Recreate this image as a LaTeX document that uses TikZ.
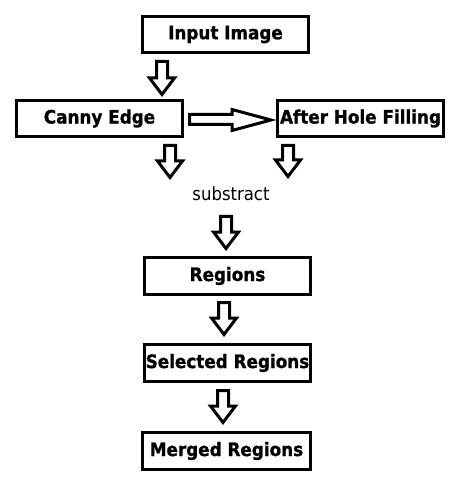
\documentclass[tikz,border=0pt]{standalone}
\usepackage{graphicx}
\usepackage{fontspec}
\setmainfont{DejaVu Sans}[BoldFeatures={FakeBold=1.2}]
\newcommand\tallt[1]{\scalebox{1}[1.1]{#1}}
\begin{document}
\begin{tikzpicture}[x=1pt,y=-1pt,
  stepbox/.style={draw=black,line width=3pt,minimum height=36pt,minimum width=166pt,inner sep=0pt,
    font=\fontsize{16.8}{20}\selectfont\bfseries},
  blockarrow/.style={draw=black,line width=3pt,line join=miter,fill=white}]
\useasboundingbox[fill=white] (0,0) rectangle (461,502);
\newcommand\darr[3]{%
  \draw[blockarrow] (#1-5.5,#2+1.5) -- (#1+5.5,#2+1.5) -- (#1+5.5,#3-19) -- (#1+12.5,#3-19)
    -- (#1,#3-2.5) -- (#1-12.5,#3-19) -- (#1-5.5,#3-19) -- cycle;}
\node[stepbox] (in) at (225.5,34.5) {\tallt{Input Image}};
\node[stepbox] (ce) at (99.5,118.5) {\tallt{Canny Edge}};
\node[stepbox] (hf) at (360.5,118.5) {\tallt{After Hole Filling}};
\node[font=\fontsize{16.5}{20}\selectfont] (sub) at (231,194) {\tallt{substract}};
\node[stepbox,minimum height=37pt] (rg) at (227.5,276) {\tallt{Regions}};
\node[stepbox,minimum height=37pt] (sr) at (227.5,363) {\tallt{Selected Regions}};
\node[stepbox,minimum height=37pt,minimum width=168pt] (mr) at (226.5,451) {\tallt{Merged Regions}};
\darr{162}{60}{97}
\darr{170}{144}{180}
\darr{288}{144}{179}
\darr{226}{215}{251}
\darr{224}{301}{337}
\darr{223}{389}{425}
\draw[blockarrow] (189.5,114.5) -- (232,114.5) -- (232,109.5) -- (271,120) -- (232,130.5)
  -- (232,124.5) -- (189.5,124.5) -- cycle;
\end{tikzpicture}
\end{document}
